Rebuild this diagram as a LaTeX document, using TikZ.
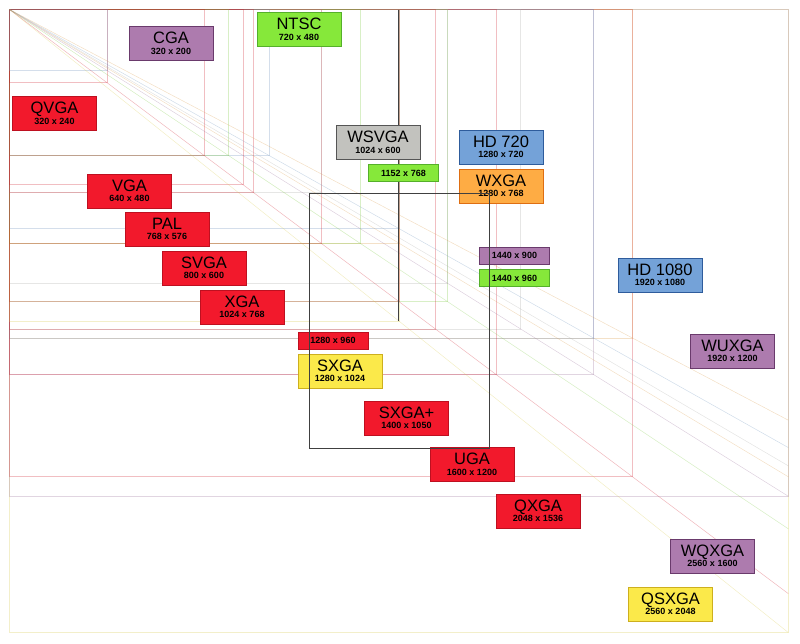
\documentclass[tikz,border=0pt]{standalone}
\usepackage{fontspec}
\setmainfont{Liberation Sans}
\definecolor{vred}{HTML}{F2192C}\definecolor{vredd}{HTML}{BE1020}
\definecolor{vpurple}{HTML}{AD7BAE}\definecolor{vpurpled}{HTML}{6A3A6C}
\definecolor{vgreen}{HTML}{86E83A}\definecolor{vgreend}{HTML}{55B02A}
\definecolor{vgrey}{HTML}{C2C2BE}\definecolor{vgreyd}{HTML}{555555}
\definecolor{vblue}{HTML}{74A2D8}\definecolor{vblued}{HTML}{2E5C9C}
\definecolor{vorange}{HTML}{FEAC44}\definecolor{voranged}{HTML}{DE6E12}
\definecolor{vyellow}{HTML}{FBE94A}\definecolor{vyellowd}{HTML}{CDAF1E}
\newcommand\reslabel[2]{{\fontsize{16.5}{16}\selectfont #1}\\[-1.5pt]{\fontsize{9}{9}\bfseries\selectfont #2}}
\tikzset{
  resbox/.style={draw, line width=1pt, minimum width=84pt, minimum height=34pt, inner sep=0pt, align=center},
  smallbox/.style={draw, line width=1pt, minimum width=70pt, minimum height=17pt, inner sep=0pt, font=\fontsize{9}{9}\bfseries\selectfont},
  fred/.style={fill=vred, draw=vredd},
  fpurple/.style={fill=vpurple, draw=vpurpled},
  fgreen/.style={fill=vgreen, draw=vgreend},
  fgrey/.style={fill=vgrey, draw=vgreyd},
  fblue/.style={fill=vblue, draw=vblued},
  forange/.style={fill=vorange, draw=voranged},
  fyellow/.style={fill=vyellow, draw=vyellowd}
}

\begin{document}
\begin{tikzpicture}[x=1pt,y=-1pt]
        \useasboundingbox (0,0) rectangle (800,643);
        \begin{scope}[shift={(9.5,9.5)},x=0.3042pt,y=-0.3042pt]
        \foreach \w/\h/\c in {2560/2048/vyellow,2560/1600/vpurple,2048/1536/vred,2048/1080/vorange,1920/1200/vpurple,1920/1080/vblue,1680/1050/vgrey,1600/1200/vred,1440/960/vgreen,1440/900/vgrey,1400/1050/vred,1280/1024/vyellow,1280/960/vred,1280/768/vorange,1280/720/vblue,1152/768/vgreen,1024/768/vred,1024/600/vgrey,854/480/vblue,800/600/vred,768/576/vred,720/480/vgreen,640/480/vred,320/240/vred,320/200/vblue}
          \draw[draw=\c!85!black, draw opacity=0.28, line width=0.6pt] (0,0) rectangle (\w,\h);
        \foreach \h/\c in {2048/vyellow,1920/vred,1707/vgreen,1600/vpurple,1536/vorange,1500/vgrey,1440/vblue,1350/vorange}
          \draw[draw=\c!85!black, draw opacity=0.3, line width=0.5pt] (0,0) -- (2560,\h);
        \draw[black!75, line width=0.8pt] (1280,0) -- (1280,1024);
        \end{scope}
        \node[resbox,fpurple] (cga) at (171,43.5) {\reslabel{CGA}{320 x 200}};
        \node[resbox,fgreen] (ntsc) at (299,29.5) {\reslabel{NTSC}{720 x 480}};
        \node[resbox,fred] (qvga) at (54.5,113.5) {\reslabel{QVGA}{320 x 240}};
        \node[resbox,fgrey] (wsvga) at (378,142.5) {\reslabel{WSVGA}{1024 x 600}};
        \node[smallbox,fgreen] (r1152) at (403.5,173) {1152 x 768};
        \node[resbox,fblue] (hd720) at (501,147) {\reslabel{HD 720}{1280 x 720}};
        \node[resbox,forange] (wxga) at (501,186) {\reslabel{WXGA}{1280 x 768}};
        \node[resbox,fred] (vga) at (129.5,191) {\reslabel{VGA}{640 x 480}};
        \node[resbox,fred] (pal) at (167,229) {\reslabel{PAL}{768 x 576}};
        \node[resbox,fred] (svga) at (204,268) {\reslabel{SVGA}{800 x 600}};
        \node[resbox,fred] (xga) at (242,307) {\reslabel{XGA}{1024 x 768}};
        \node[smallbox,fred] (r1280) at (333,340.5) {1280 x 960};
        \node[resbox,fyellow] (sxga) at (340,371) {\reslabel{SXGA}{1280 x 1024}};
        \node[resbox,fred] (sxgap) at (406.5,418) {\reslabel{SXGA+}{1400 x 1050}};
        \node[resbox,fred] (uga) at (472,464.5) {\reslabel{UGA}{1600 x 1200}};
        \node[resbox,fred] (qxga) at (538,511) {\reslabel{QXGA}{2048 x 1536}};
        \node[smallbox,fpurple] (r1440a) at (514.5,255.5) {1440 x 900};
        \node[smallbox,fgreen] (r1440b) at (514.5,278) {1440 x 960};
        \node[resbox,fblue] (hd1080) at (660,275) {\reslabel{HD 1080}{1920 x 1080}};
        \node[resbox,fpurple] (wuxga) at (732.5,351) {\reslabel{WUXGA}{1920 x 1200}};
        \node[resbox,fpurple] (wqxga) at (712.5,556) {\reslabel{WQXGA}{2560 x 1600}};
        \node[resbox,fyellow] (qsxga) at (670.5,604) {\reslabel{QSXGA}{2560 x 2048}};
        \draw[black!75, line width=0.8pt] (309,193) rectangle (489,448);
      \end{tikzpicture}
\end{document}
